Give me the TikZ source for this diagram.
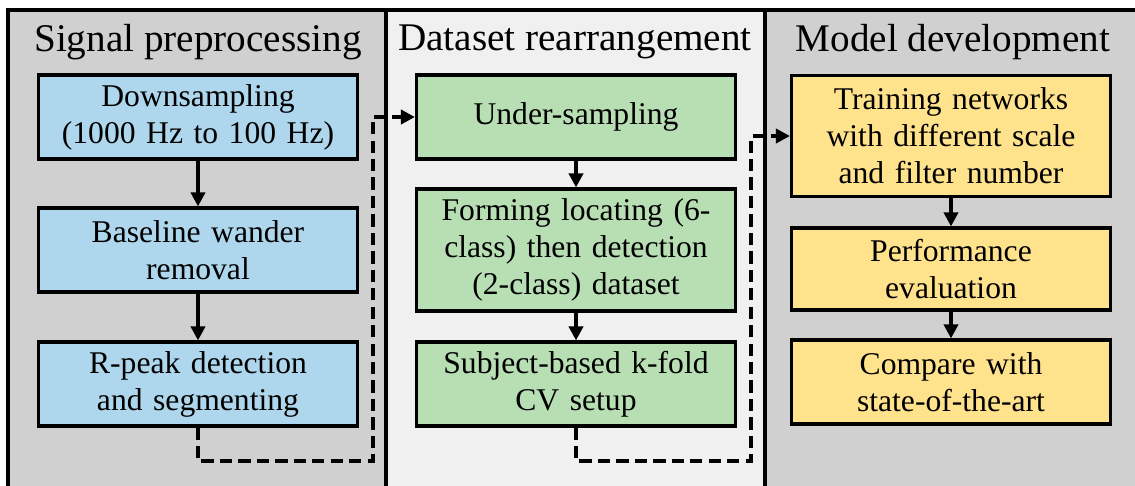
\documentclass[tikz,border=0pt]{standalone}
\usepackage{fontspec}
\setmainfont{Liberation Serif}
\usetikzlibrary{arrows.meta}

\definecolor{panelgray}{RGB}{208,208,208}
\definecolor{panellight}{RGB}{240,240,240}
\definecolor{stepblue}{RGB}{174,214,236}
\definecolor{stepgreen}{RGB}{184,222,180}
\definecolor{stepyellow}{RGB}{255,226,140}

\begin{document}
\begin{tikzpicture}[x=0.02cm,y=-0.02cm,line width=1.8pt]

        \edef\boxwidth{6.38cm}
        \tikzstyle{stage}=[draw,minimum width=\boxwidth,text width=6cm,align=center,
                           inner sep=0pt,font=\fontsize{18}{21}\selectfont]
        \tikzstyle{title}=[font=\fontsize{22.3}{26}\selectfont,inner sep=0pt]
        \tikzstyle{flow}=[-{Triangle[length=8pt,width=8pt]},line width=2pt]
        \tikzstyle{jump}=[-{Triangle[length=8pt,width=8pt]},line width=2.3pt,dash pattern=on 7pt off 3.5pt]

        \useasboundingbox (0,0) rectangle (1135,485);
        \clip (0,0) rectangle (1135,485);

        % three panels
        \fill[panelgray]  (8,10)   rectangle (386,500);
        \fill[panellight] (386,10) rectangle (765,500);
        \fill[panelgray]  (765,10) rectangle (1150,500);
        \draw (8,500) -- (8,10) -- (1150,10);
        \draw (386,10) -- (386,500);
        \draw (765,10) -- (765,500);

        \node [title] (t1) at (198,42) {Signal preprocessing};
        \node [title] (t2) at (575,42) {Dataset rearrangement};
        \node [title] (t3) at (953,42) {Model development};

        % signal preprocessing
        \node [stage,fill=stepblue,minimum height=1.68cm] (b1) at (198,117)
            {Downsampling\\(1000 Hz to 100 Hz)};
        \node [stage,fill=stepblue,minimum height=1.68cm] (b2) at (198,250)
            {Baseline wander\\removal};
        \node [stage,fill=stepblue,minimum height=1.68cm] (b3) at (198,384)
            {R-peak detection\\and segmenting};

        % dataset rearrangement
        \node [stage,fill=stepgreen,minimum height=1.68cm] (g1) at (576,117)
            {Under-sampling};
        \node [stage,fill=stepgreen,minimum height=2.44cm] (g2) at (576,250)
            {Forming locating (6-\\class) then detection\\(2-class) dataset};
        \node [stage,fill=stepgreen,minimum height=1.68cm] (g3) at (576,384)
            {Subject-based k-fold\\CV setup};

        % model development
        \node [stage,fill=stepyellow,minimum height=2.42cm] (y1) at (951,136)
            {Training networks\\with different scale\\and filter number};
        \node [stage,fill=stepyellow,minimum height=1.64cm] (y2) at (951,269)
            {Performance\\evaluation};
        \node [stage,fill=stepyellow,minimum height=1.68cm] (y3) at (951,382)
            {Compare with\\state-of-the-art};

        \foreach \a/\b in {b1/b2,b2/b3,g1/g2,g2/g3,y1/y2,y2/y3} {
            \draw [flow] (\a.south) -- (\b.north);
        };

        % hand-over between panels
        \coordinate (c1) at (373,461);
        \coordinate (c2) at (751,461);
        \draw [jump] (b3.south) |- (c1) |- (g1.west);
        \draw [jump] (g3.south) |- (c2) |- (y1.west);
        \end{tikzpicture}
\end{document}
